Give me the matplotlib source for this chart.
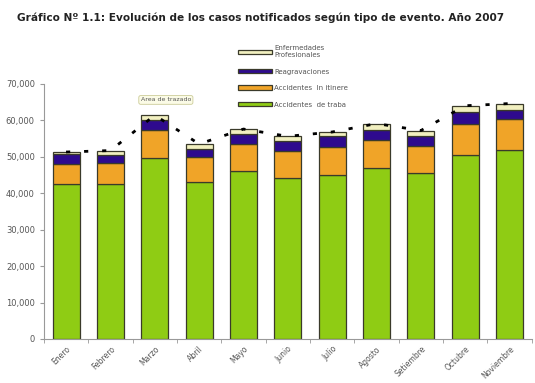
import numpy as np
import matplotlib
matplotlib.use("Agg")
import matplotlib.pyplot as plt

# Data
months = ['Enero', 'Febrero', 'Marzo', 'Abril', 'Mayo', 'Junio', 'Julio',
          'Agosto', 'Setiembre', 'Octubre', 'Noviembre']
trabajo = [42500, 42500, 49600, 43100, 46200, 44100, 44900, 46900, 45500, 50600, 51900]
itinere = [5600, 5800, 7800, 6800, 7400, 7500, 7900, 7800, 7500, 8500, 8500]
reagrav = [2700, 2200, 2600, 2300, 2600, 2600, 2800, 2700, 2600, 3200, 2500]
enferm = [500, 1200, 1400, 1300, 1400, 1400, 1200, 1700, 1600, 1700, 1700]

yticks = [0, 10000, 20000, 30000, 40000, 50000, 60000, 70000]

x = np.arange(len(months))
trabajo = np.array(trabajo)
itinere = np.array(itinere)
reagrav = np.array(reagrav)
enferm = np.array(enferm)
total = trabajo + itinere + reagrav + enferm

fig = plt.figure(figsize=(5.35, 3.83), dpi=100)
ax = fig.add_axes([0.082, 0.115, 0.912, 0.666])

w = 0.61
ec = '#3a3a2a'
ax.bar(x, trabajo, w, color='#8fcc14', edgecolor=ec, linewidth=0.9,
       label='Accidentes  de traba', zorder=2)
ax.bar(x, itinere, w, bottom=trabajo, color='#f0a428', edgecolor=ec,
       linewidth=0.9, label='Accidentes  In itinere', zorder=2)
ax.bar(x, reagrav, w, bottom=trabajo + itinere, color='#2e0a8e',
       edgecolor=ec, linewidth=0.9, label='Reagravaciones', zorder=2)
ax.bar(x, enferm, w, bottom=trabajo + itinere + reagrav, color='#f2f0c0',
       edgecolor=ec, linewidth=0.9, label='Enfermedades\nProfesionales', zorder=2)

# dotted trend of totals
ax.plot(x, total, color='black', linestyle=(0, (1.5, 5)), linewidth=2,
        zorder=3)

ax.set_xlim(-0.5, len(months) - 0.5)
ax.set_ylim(0, 70000)
ax.set_yticks(yticks)
ax.set_yticklabels([f'{v:,}' for v in yticks], fontsize=6, color='#555555')
ax.set_xticks(x)
ax.set_xticklabels(months, rotation=45, ha='right', rotation_mode='anchor',
                   fontsize=5.5, color='#555555')
ax.tick_params(axis='x', length=0, pad=4)
ax.set_xticks(np.arange(-0.5, len(months), 1), minor=True)
ax.tick_params(axis='x', which='minor', length=3, color='#999999')
ax.tick_params(axis='y', length=3, color='#999999')

for s in ['top', 'right']:
    ax.spines[s].set_visible(False)
for s in ['left', 'bottom']:
    ax.spines[s].set_color('#999999')
    ax.spines[s].set_linewidth(0.8)

handles, labels = ax.get_legend_handles_labels()
leg = ax.legend(handles[::-1], labels[::-1], loc='upper left',
                bbox_to_anchor=(0.39, 1.165), frameon=False, fontsize=5,
                handlelength=5, handleheight=0.6, labelspacing=1.5,
                handletextpad=0.3, borderpad=0)
for t in leg.get_texts():
    t.set_color('#555555')

ax.text(0.25, 0.937, 'Area de trazado', transform=ax.transAxes,
        fontsize=4.5, color='#555555', ha='center', va='center',
        bbox=dict(boxstyle='round,pad=0.3', facecolor='#fbfbe6',
                  edgecolor='#cccc99', linewidth=0.6), zorder=5)

fig.text(0.032, 0.953,
         'Gráfico Nº 1.1: Evolución de los casos notificados según tipo de evento. Año 2007',
         fontsize=7.6, fontweight='bold', color='#222222', ha='left', va='center')

fig.savefig('out.png', dpi=100)
